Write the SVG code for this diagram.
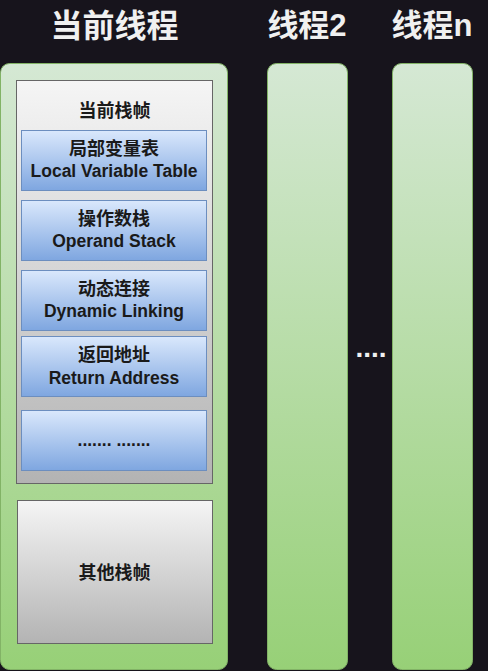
<svg xmlns="http://www.w3.org/2000/svg" width="488" height="671" viewBox="0 0 488 671">
<defs>
<linearGradient id="gGreen" x1="0" y1="0" x2="0" y2="1"><stop offset="0" stop-color="#d5e8d4"/><stop offset="1" stop-color="#97d077"/></linearGradient>
<linearGradient id="gGray" x1="0" y1="0" x2="0" y2="1"><stop offset="0" stop-color="#f5f5f5"/><stop offset="1" stop-color="#b3b3b3"/></linearGradient>
<linearGradient id="gBlue" x1="0" y1="0" x2="0" y2="1"><stop offset="0" stop-color="#dae8fc"/><stop offset="1" stop-color="#7ea6e0"/></linearGradient>
</defs>
<style>
.title{font-family:"Liberation Sans","Noto Sans CJK SC",sans-serif;font-weight:bold;fill:#f0f0f0;text-anchor:middle}
.col{fill:url(#gGreen);stroke:#82b366;stroke-width:1}
.gray{fill:url(#gGray);stroke:#666666;stroke-width:1}
.blue{fill:url(#gBlue);stroke:#6c8ebf;stroke-width:1}
.lbl{font-family:"Liberation Sans","Noto Sans CJK SC",sans-serif;font-weight:bold;font-size:17.5px;fill:#1a1a1a;text-anchor:middle}
.cn{font-size:18px}
</style>
<rect width="488" height="671" fill="#17141c"/>
<text class="title" x="114.5" y="37" font-size="32">当前线程</text>
<text class="title" x="307" y="36" font-size="31">线程2</text>
<text class="title" x="432" y="36" font-size="31">线程n</text>
<g id="thread-current">
<rect class="col" x="0.5" y="63.5" width="227" height="606" rx="9"/>
</g>
<g id="thread-2">
<rect class="col" x="267.5" y="63.5" width="80" height="606" rx="9"/>
</g>
<g id="thread-n">
<rect class="col" x="392.5" y="63.5" width="80" height="606" rx="9"/>
</g>
<g id="current-frame">
<rect class="gray" x="16.5" y="80.5" width="196" height="403"/>
<text class="lbl cn" x="114.5" y="117">当前栈帧</text>
</g>
<g id="local-var">
<rect class="blue" x="21.5" y="130.5" width="185" height="60"/>
<text class="lbl cn" x="114" y="155">局部变量表</text>
<text class="lbl" x="114" y="177">Local Variable Table</text>
</g>
<g id="operand">
<rect class="blue" x="21.5" y="200.5" width="185" height="60"/>
<text class="lbl cn" x="114" y="225">操作数栈</text>
<text class="lbl" x="114" y="247">Operand Stack</text>
</g>
<g id="dynamic">
<rect class="blue" x="21.5" y="270.5" width="185" height="60"/>
<text class="lbl cn" x="114" y="295">动态连接</text>
<text class="lbl" x="114" y="317">Dynamic Linking</text>
</g>
<g id="return">
<rect class="blue" x="21.5" y="336.5" width="185" height="60"/>
<text class="lbl cn" x="114" y="361">返回地址</text>
<text class="lbl" x="114" y="384">Return Address</text>
</g>
<g id="more">
<rect class="blue" x="21.5" y="410.5" width="185" height="60"/>
<text class="lbl" x="114" y="446">....... .......</text>
</g>
<g id="other-frames">
<rect class="gray" x="17.5" y="500.5" width="195" height="143"/>
<text class="lbl cn" x="114.5" y="579">其他栈帧</text>
</g>
<g id="connectors"></g>
<text x="371" y="357" font-family="Liberation Sans, sans-serif" font-weight="bold" font-size="28" fill="#f0f0f0" text-anchor="middle">....</text>
</svg>
